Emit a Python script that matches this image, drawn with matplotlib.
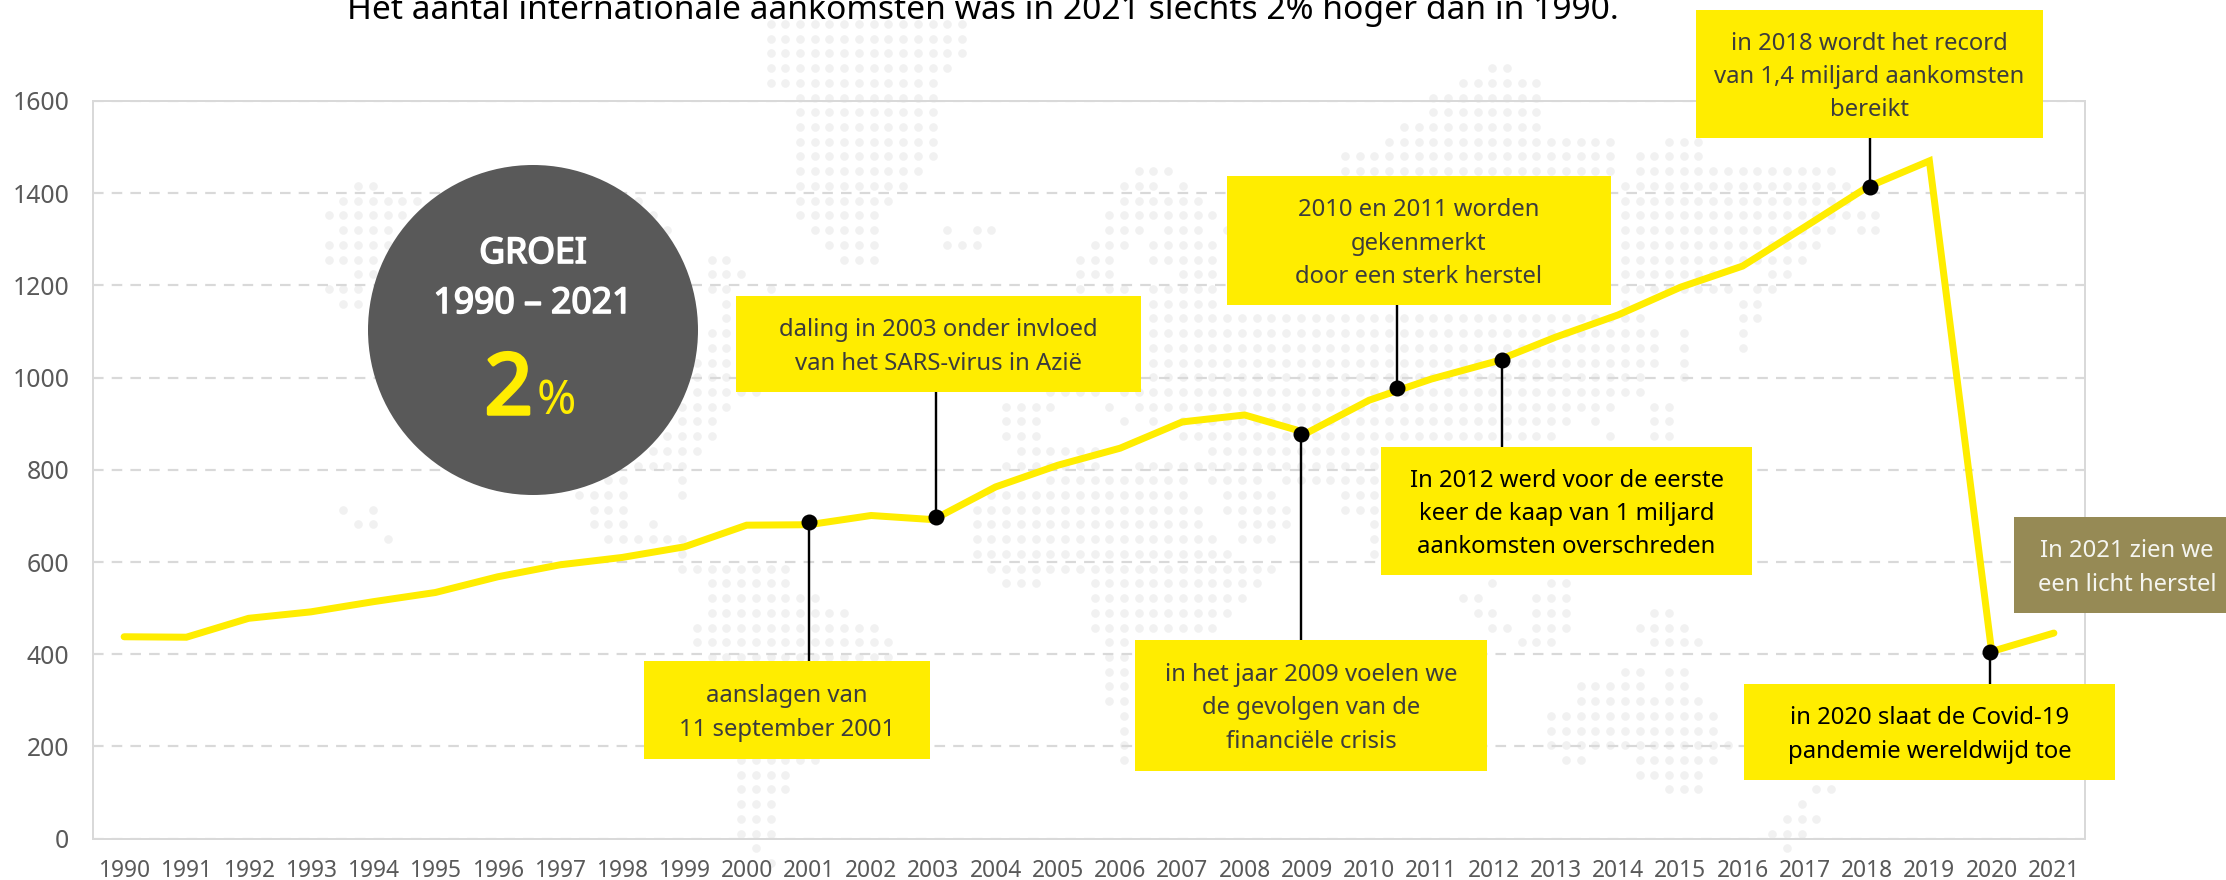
"""Internationale aankomsten 1990-2021, annotated line chart on a dotted world map."""

import matplotlib
matplotlib.use("Agg")
import matplotlib.pyplot as plt
import matplotlib.patheffects as pe
from matplotlib.patches import Circle, Rectangle

plt.rcParams['font.family'] = ['Noto Sans', 'DejaVu Sans']

W, H = 2226, 880

YEARS = list(range(1990, 2022))
ARRIVALS = [438, 437, 478, 492, 514, 534, 568, 594, 610, 633, 680, 681, 701, 692, 763, 810,
            847, 904, 919, 880, 951, 997, 1034, 1088, 1136, 1196, 1242, 1327, 1413, 1470, 406, 446]
Y_TICKS = [0, 200, 400, 600, 800, 1000, 1200, 1400, 1600]

# callout anchors: category position, value on the line, value inside the callout box
MARK_POS = [11.0, 13.04, 18.9, 20.45, 22.14, 28.05, 29.98]
MARK_VAL = [687, 697, 877, 978, 1038, 1413, 405]
MARK_END = [300, 1000, 300, 1250, 700, 1550, 200]

TITLE = "Het aantal internationale aankomsten was in 2021 slechts 2% hoger dan in 1990."

# text, left, top, right, bottom (pixels), fill, text colour
BOXES = [
    ("aanslagen van\n11 september 2001", 644, 661, 930, 759, '#FFED00', '#3C3C3C'),
    ("daling in 2003 onder invloed\nvan het SARS-virus in Azië", 736, 296, 1141, 392, '#FFED00', '#3C3C3C'),
    ("in het jaar 2009 voelen we\nde gevolgen van de\nfinanciële crisis", 1135, 640, 1487, 771, '#FFED00', '#3C3C3C'),
    ("2010 en 2011 worden\ngekenmerkt\ndoor een sterk herstel", 1227, 176, 1611, 305, '#FFED00', '#3C3C3C'),
    ("In 2012 werd voor de eerste\nkeer de kaap van 1 miljard\naankomsten overschreden", 1381, 447, 1752, 575, '#FFED00', '#000000'),
    ("in 2018 wordt het record\nvan 1,4 miljard aankomsten\nbereikt", 1696, 10, 2043, 138, '#FFED00', '#3C3C3C'),
    ("in 2020 slaat de Covid-19\npandemie wereldwijd toe", 1744, 684, 2115, 780, '#FFED00', '#000000'),
    ("In 2021 zien we\neen licht herstel", 2014, 517, 2240, 613, '#968A55', '#F5F5F0'),
]

# dotted world map: one list of (first column, last column) runs per row
MAP_RUNS = [
    [(0, 13)], [(0, 13)], [(0, 13)],
    [(0, 12), (49, 50)],
    [(0, 11), (47, 52)],
    [(2, 11), (45, 52)],
    [(2, 11), (45, 52)],
    [(2, 11), (43, 52)],
    [(2, 11), (42, 57), (61, 63)],
    [(2, 11), (39, 57), (59, 63)],
    [(2, 10), (25, 27), (39, 57), (59, 72)],
    [(-28, -27), (2, 9), (24, 26), (28, 28), (58, 73)],
    [(-29, -24), (-9, -9), (2, 8), (24, 29), (58, 73)],
    [(-30, -25), (-8, -8), (2, 7), (23, 30), (58, 75)],
    [(-29, -26), (-7, -7), (3, 7), (12, 12), (14, 15), (23, 25), (27, 29), (31, 31), (58, 72), (74, 75)],
    [(-30, -26), (4, 7), (12, 14), (22, 24), (26, 30), (58, 71)],
    [(-30, -27), (-4, -3), (5, 7), (21, 23), (26, 30), (58, 70)],
    [(-28, -27), (-4, -2), (21, 23), (28, 30), (58, 64), (68, 69)],
    [(-30, -28), (-4, -3), (0, 0), (21, 21), (23, 24), (26, 30), (58, 65), (67, 68)],
    [(-29, -28), (-3, -3), (26, 30), (58, 58), (66, 67)],
    [(-3, -3), (26, 59), (66, 67)],
    [(-4, -3), (26, 60), (62, 62), (66, 66)],
    [(-4, -3), (26, 60), (62, 62), (66, 66)],
    [(-5, -3), (26, 60), (62, 62)],
    [(-5, -3), (26, 59), (62, 62)],
    [(-5, -1), (19, 22), (24, 59)],
    [(-6, -3), (16, 19), (23, 23), (25, 57), (60, 61)],
    [(-6, -4), (16, 18), (24, 24), (26, 26), (28, 54), (56, 56), (60, 61)],
    [(-7, -4), (16, 18), (28, 53), (57, 57), (60, 61)],
    [(-8, -5), (17, 22), (30, 41)],
    [(-9, -6), (16, 22), (25, 41)],
    [(-11, -10), (-6, -6), (19, 28), (30, 33), (35, 41)],
    [(-13, -10), (-6, -6), (15, 28), (31, 34), (39, 41)],
    [(-29, -29), (-27, -27), (-12, -10), (14, 29), (31, 35), (39, 41)],
    [(-28, -27), (-12, -10), (-8, -8), (14, 29), (32, 35), (41, 41)],
    [(-26, -26), (-11, -6), (14, 30), (32, 34), (41, 41)],
    [(-6, -6), (14, 31), (41, 41)],
    [(-6, 1), (15, 34)],
    [(-4, 1), (16, 18), (22, 33), (49, 49), (53, 54)],
    [(-4, 3), (22, 32), (47, 48), (52, 54)],
    [(-4, 5), (22, 31), (48, 49), (52, 54), (60, 61)],
    [(-5, 7), (22, 30), (49, 50), (52, 54), (59, 62)],
    [(-5, 8), (23, 24), (51, 53), (60, 63)],
    [(-4, 8), (23, 24)],
    [(23, 24), (58, 59), (61, 62)],
    [(23, 24), (55, 59), (61, 62)],
    [(23, 24), (55, 63)],
    [(24, 24), (53, 64)],
    [(24, 24), (53, 64)],
    [(24, 24), (53, 65)],
    [(-2, 3), (24, 24), (54, 55), (59, 64)],
    [(-2, 1), (59, 63)],
    [(-2, 1), (61, 63), (71, 72)],
    [(-2, 0), (70, 70)],
    [(-2, 0), (69, 71)],
    [(-2, 0), (68, 70)],
    [(-1, -1), (69, 69)],
    [(0, 0)],
]

YELLOW = '#FFED00'
GREY_TXT = '#595959'
GRID = '#D9D9D9'


def px(n):
    """Pixels to points at 100 dpi."""
    return n * 0.72


def pixel_axes(fig, zorder):
    ax = fig.add_axes((0, 0, 1, 1), zorder=zorder)
    ax.set_xlim(0, W)
    ax.set_ylim(H, 0)
    ax.axis('off')
    ax.patch.set_alpha(0)
    return ax


def heavy(color, width):
    # Noto Sans is only drawn in regular here, so thicken the glyphs with a stroke
    return [pe.withStroke(linewidth=width, foreground=color)]


fig = plt.figure(figsize=(W / 100, H / 100), dpi=100, facecolor='white')

# background map
bg = pixel_axes(fig, 0)
dots_x, dots_y = [], []
for row, runs in enumerate(MAP_RUNS):
    for first, last in runs:
        for col in range(first, last + 1):
            dots_x.append(770.5 + 14.73 * col)
            dots_y.append(24 + 14.72 * row)
bg.scatter(dots_x, dots_y, s=px(8.6) ** 2, color='#F1F1F1', linewidths=0)

# main chart
left, right, top, bottom = 93, 2085, 101, 838.7
ax = fig.add_axes((left / W, 1 - bottom / H, (right - left) / W, (bottom - top) / H), zorder=1)
ax.patch.set_alpha(0)
ax.set_xlim(-0.5, len(YEARS) - 0.5)
ax.set_ylim(0, 1600)
ax.set_yticks(Y_TICKS)
ax.set_xticks(range(len(YEARS)))
ax.set_xticklabels(YEARS)
ax.tick_params(length=0, labelcolor=GREY_TXT)
ax.tick_params(axis='x', pad=14.5, labelsize=16.4)
ax.tick_params(axis='y', pad=17, labelsize=17.8)
for spine in ax.spines.values():
    spine.set_color(GRID)
    spine.set_linewidth(px(2))
ax.grid(axis='y', color=GRID, linewidth=px(2.2), dashes=(4.8, 3.7))
ax.set_axisbelow(True)

ax.plot(range(len(YEARS)), ARRIVALS, color=YELLOW, linewidth=px(7), solid_joinstyle='miter',
        solid_capstyle='round', zorder=3)
ax.vlines(MARK_POS, MARK_VAL, MARK_END, color='black', linewidth=px(2.4), zorder=4)
ax.scatter(MARK_POS, MARK_VAL, s=px(16) ** 2, color='black', linewidths=0, zorder=5)

# overlay: title, circle, callout boxes
top_ax = pixel_axes(fig, 2)
top_ax.text(983, 19, TITLE, ha='center', va='baseline', fontsize=24.2, color='black')

top_ax.add_patch(Circle((533, 330), 165, facecolor='#595959', edgecolor='none'))
top_ax.text(533, 254, "GROEI", ha='center', va='center', fontsize=25.6, color='white',
            path_effects=heavy('white', 1.2))
top_ax.text(533, 304, "1990 – 2021", ha='center', va='center', fontsize=25.6, color='white',
            path_effects=heavy('white', 1.2))
top_ax.text(533, 414, "2", ha='right', va='baseline', fontsize=61, color=YELLOW,
            path_effects=heavy(YELLOW, 2.5))
top_ax.text(537, 414, "%", ha='left', va='baseline', fontsize=34, color=YELLOW)

for label, x0, y0, x1, y1, fill, col in BOXES:
    top_ax.add_patch(Rectangle((x0, y0), x1 - x0, y1 - y0, facecolor=fill, edgecolor='none'))
    top_ax.text((x0 + x1) / 2, (y0 + y1) / 2 + 3, label, ha='center', va='center', fontsize=17.2,
                color=col, linespacing=1.52, multialignment='center')

fig.savefig('out.png', dpi=100, facecolor='white')
